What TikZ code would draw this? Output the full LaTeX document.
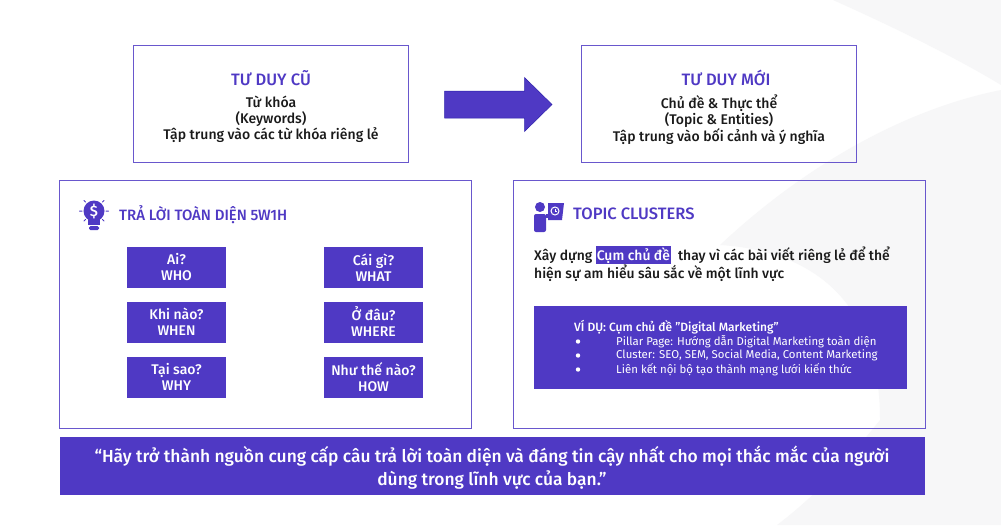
\documentclass[tikz,border=0pt]{standalone}
\usepackage{fontspec}
\setmainfont[BoldFont={Fira Sans Medium}]{Fira Sans}
\definecolor{vio}{HTML}{4F39C4}
\definecolor{ink}{HTML}{1A1A1A}
\definecolor{band}{HTML}{F7F7F8}
\tikzset{
  panel/.style={draw=vio!85,line width=1pt,inner sep=0pt},
  tile/.style={fill=vio,text=white,font=\fontsize{14}{16}\selectfont\bfseries,align=center,minimum width=99pt,minimum height=41pt,inner sep=0pt},
  heading/.style={text=vio,font=\fontsize{16.5}{18}\selectfont\bfseries,inner sep=0pt},
  body/.style={text=ink,font=\fontsize{14}{16}\selectfont\bfseries,align=center,inner sep=0pt},
  emph/.style={text=ink,font=\fontsize{13.9}{17.5}\selectfont\bfseries,align=left,inner sep=0pt,anchor=north west},
  ex/.style={text=white,font=\fontsize{11.4}{14}\selectfont,inner sep=0pt,anchor=west}
}
\begin{document}
\begin{tikzpicture}[x=1pt,y=-1pt]
\useasboundingbox (0,0) rectangle (1001,525);
\fill[white] (0,0) rectangle (1001,525);
\fill[band] (833,0) .. controls (900,30) and (960,60) .. (1001,85) -- (1001,0) -- cycle;
\fill[band] (1001,90) .. controls (900,110) and (800,170) .. (720,245) .. controls (800,250) and (880,290) .. (880,420) .. controls (840,470) and (810,500) .. (777,525) -- (1001,525) -- cycle;
% top boxes
\node[panel,minimum width=275pt,minimum height=117pt] (old) at (271,104) {};
\node[heading] (oldt) at (271,78) {TƯ DUY CŨ};
\node[body] (oldb) at (271,119.5) {Từ khóa\\(Keywords)\\Tập trung vào các từ khóa riêng lẻ};
\node[panel,minimum width=275pt,minimum height=117pt] (new) at (719,104) {};
\node[heading] (newt) at (726,78) {TƯ DUY MỚI};
\node[body] (newb) at (719,119.5) {Chủ đề \& Thực thể\\(Topic \& Entities)\\Tập trung vào bối cảnh và ý nghĩa};
% arrow
\fill[vio,draw=vio!70!blue!80!black,line width=.5pt] (444.5,91) -- (524.5,91) -- (524.5,77.5) -- (552,104.5) -- (524.5,131.5) -- (524.5,118) -- (444.5,118) -- cycle;
% panels
\node[panel,minimum width=412pt,minimum height=248pt] (left) at (265.5,304.5) {};
\node[panel,minimum width=412pt,minimum height=248pt] (right) at (719,304.5) {};
% bulb icon
\begin{scope}[vio]
\fill (94,211) circle (10.5);
\fill (88,219) rectangle (100,225);
\fill[rounded corners=1.5pt] (89,226) rectangle (99,230);
\draw[line width=1pt,line cap=round] (79.5,211)--(82,211) (106,211)--(108.5,211) (84,200.5)--(85.5,202) (104,200.5)--(102.5,202) (84,221)--(85.5,219.5) (104,221)--(102.5,219.5);
\end{scope}
\node[text=white,font=\fontsize{15}{15}\selectfont\bfseries,inner sep=0pt] (dollar) at (94,211) {\$};
\node[heading,anchor=west,font=\fontsize{15}{17}\selectfont\bfseries] (lt) at (119,215) {TRẢ LỜI TOÀN DIỆN 5W1H};
% tiles
\node[tile] (a) at (176.5,267.5) {Ai?\\WHO};
\node[tile] (b) at (373.5,267.5) {Cái gì?\\WHAT};
\node[tile] (c) at (176.5,322) {Khi nào?\\WHEN};
\node[tile] (d) at (373.5,322) {Ở đâu?\\WHERE};
\node[tile] (e) at (176.5,377) {Tại sao?\\WHY};
\node[tile] (f) at (373.5,377) {Như thế nào?\\HOW};
% presenter icon
\begin{scope}[vio]
\fill (540,207) circle (5);
\fill[rounded corners=2pt] (534,214) rectangle (546,232);
\fill (546,214) rectangle (552,218);
\fill (548,203) -- (564,203) -- (562,220) -- (548,220) -- cycle;
\end{scope}
\draw[white,line width=1pt] (555,211) circle (4);
\draw[white,line width=.8pt] (555,208.5)--(555,211)--(557,211);
\node[heading,anchor=west] (rt) at (573,214) {TOPIC CLUSTERS};
% text with highlight
\setlength{\fboxsep}{1pt}
\node[emph] (rb) at (534,246) {Xây dựng \colorbox{vio}{\textcolor{white}{Cụm chủ đề}}\ \ thay vì các bài viết riêng lẻ để thể\\hiện sự am hiểu sâu sắc về một lĩnh vực};
% example
\node[fill=vio,minimum width=373pt,minimum height=83pt,inner sep=0pt] (exbox) at (720,347.5) {};
\node[ex,font=\fontsize{12}{14}\selectfont\bfseries] (ex0) at (574,327) {VÍ DỤ: Cụm chủ đề "Digital Marketing"};
\foreach \y/\t/\n in {341.5/Pillar Page: Hướng dẫn Digital Marketing toàn diện/p,355.5/{Cluster: SEO, SEM, Social Media, Content Marketing}/q,369.5/Liên kết nội bộ tạo thành mạng lưới kiến thức/r}{
  \fill[white] (578,\y) circle (2.2);
  \node[ex] (ex\n) at (616,\y) {\t};
}
% quote
\node[fill=vio,minimum width=865pt,minimum height=58pt,inner sep=0pt] (qbox) at (492,466) {};
\node[text=white,font=\fontsize{17.4}{23}\selectfont\bfseries,align=center,inner sep=0pt] (q) at (492,467.5) {“Hãy trở thành nguồn cung cấp câu trả lời toàn diện và đáng tin cậy nhất cho mọi thắc mắc của người\\dùng trong lĩnh vực của bạn."};
\end{tikzpicture}
\end{document}
